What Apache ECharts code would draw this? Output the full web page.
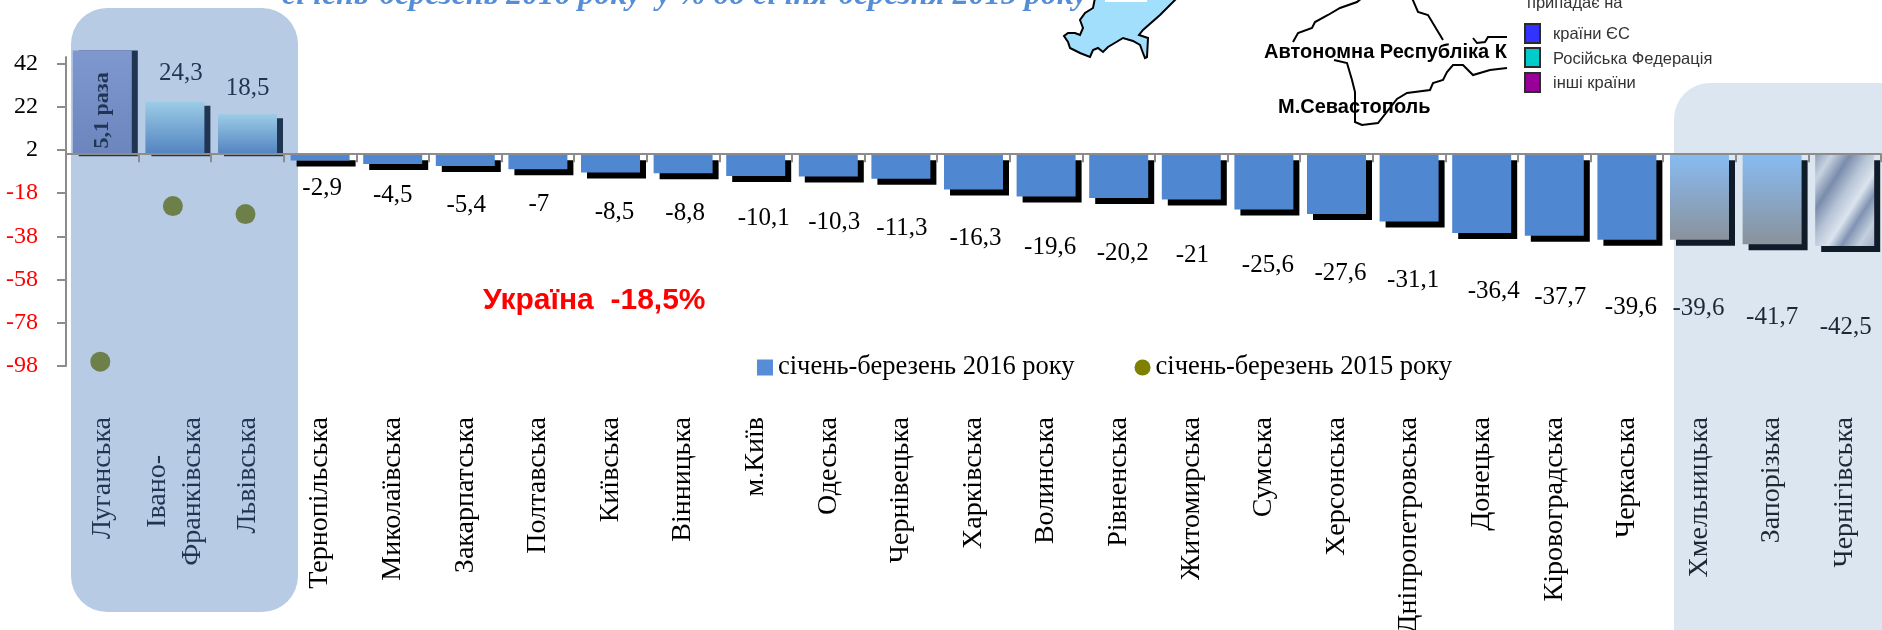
<!DOCTYPE html>
<html>
<head>
<meta charset="utf-8">
<style>
	html, body { margin: 0; padding: 0; background: #fff; overflow: hidden; }
	#main { width: 1882px; height: 630px; }
</style>
<script src="https://cdn.jsdelivr.net/npm/echarts@6/dist/echarts.min.js"></script>
</head>
<body>
<div id="main"></div>
<script>
var regions = ['Луганська', 'Івано-Франківська', 'Львівська', 'Тернопільська', 'Миколаївська', 'Закарпатська', 'Полтавська', 'Київська', 'Вінницька', 'м.Київ', 'Одеська', 'Чернівецька', 'Харківська', 'Волинська', 'Рівненська', 'Житомирська', 'Сумська', 'Херсонська', 'Дніпропетровська', 'Донецька', 'Кіровоградська', 'Черкаська', 'Хмельницька', 'Запорізька', 'Чернігівська'];
// перший стовпчик обрізаний на малюнку, підпис "5,1 раза"
var values2016 = [48, 24.3, 18.5, -2.9, -4.5, -5.4, -7, -8.5, -8.8, -10.1, -10.3, -11.3, -16.3, -19.6, -20.2, -21, -25.6, -27.6, -31.1, -36.4, -37.7, -39.6, -39.6, -41.7, -42.5];
var values2015 = [-96, -24, -27.7];
var yTicks = [42, 22, 2, -18, -38, -58, -78, -98];
var seriesNames = ['січень-березень 2016 року', 'січень-березень 2015 року'];

// зсув підписів відносно стовпчиків, px
var labelShiftX = [-8, 6, 0, 2, 0, 1, 1, 4, 2, 8, 6, 1, 2, 4, 4, 1, 4, 4, 4, 12, 6, 4, -1, 0, 1];
var labelShiftY = [0, -11, -8, 10, 14, 22, 18, 22, 23, 25, 28, 32, 31, 33, 38, 38, 38, 42, 41, 41, 44, 50, 51, 56, 64];

var NAVY = '#1f3552';
var BAR_W = 59;

function groupOf(i) {
	if (i < 3) return 0;
	if (i > 21) return 2;
	return 1;
}
var textColors = [NAVY, '#000', '#1c2836'];
var shadowColors = [NAVY, '#000', '#0f1b28'];

function vgrad(top, bottom) {
	return {
		type: 'linear', x: 0, y: 0, x2: 0, y2: 1,
		colorStops: [{ offset: 0, color: top }, { offset: 1, color: bottom }]
	};
}

function barFill(i) {
	if (i === 0) return vgrad('#8098d0', '#6c85bd');
	if (i < 3) return vgrad('#9bcce6', '#5283c0');
	if (i === 24) {
		return {
			type: 'linear', x: 0, y: 0, x2: 1.7, y2: 0.7,
			colorStops: [
				{ offset: 0, color: '#8f9fb8' },
				{ offset: 0.12, color: '#c8d3e0' },
				{ offset: 0.25, color: '#7a8cac' },
				{ offset: 0.38, color: '#b7c4d6' },
				{ offset: 0.5, color: '#dbe4ee' },
				{ offset: 0.6, color: '#8093b3' },
				{ offset: 0.72, color: '#c4cfdd' },
				{ offset: 0.85, color: '#9cadc5' },
				{ offset: 1, color: '#7486a8' }
			]
		};
	}
	if (i > 21) return vgrad('#88bbf2', '#8a929c');
	return '#4f88d0';
}

var barData = values2016.map(function(v, i) {
	var item = { value: v, itemStyle: { color: barFill(i) } };
	if (i === 0) {
		item.label = { show: true, position: 'inside', rotate: 90, fontWeight: 'bold', fontSize: 22, color: NAVY, formatter: '5,1 раза' };
	} else {
		item.label = { color: textColors[groupOf(i)] };
	}
	return item;
});

// тінь стовпчика
function renderShadow(params, api) {
	var i = api.value(0);
	var v = api.value(1);
	var zero = api.coord([i, 0]);
	var end = api.coord([i, v]);
	var x = zero[0] - BAR_W / 2 + 6;
	var y, h;
	if (v >= 0) {
		y = end[1] + (i === 0 ? 0 : 4);
		h = zero[1] + 2 - y;
	} else {
		y = zero[1] + 6;
		h = end[1] - zero[1];
	}
	return {
		type: 'rect',
		shape: { x: x, y: y, width: BAR_W, height: h },
		style: { fill: shadowColors[groupOf(i)] }
	};
}

function crimeaLine(points, width) {
	return {
		type: 'polyline', z: 1,
		shape: { points: points },
		style: { fill: null, stroke: '#000', lineWidth: width || 2 }
	};
}

function sideText(text, x, y, size, weight, color) {
	return {
		type: 'text', x: x, y: y, z: 6,
		style: {
			text: text, fill: color,
			font: (weight || 'normal') + ' ' + size + 'px "Liberation Sans", Arial, sans-serif',
			textVerticalAlign: 'middle'
		}
	};
}

function swatch(y, color) {
	return {
		type: 'rect', z: 6,
		shape: { x: 1525, y: y, width: 15, height: 19 },
		style: { fill: color, stroke: '#2b2b2b', lineWidth: 2 }
	};
}

var graphicItems = [
	// підкладки областей
	{ type: 'rect', z: -1, shape: { x: 71, y: 8, width: 227, height: 604, r: 36 }, style: { fill: '#b7cbe4' } },
	{ type: 'rect', z: -1, shape: { x: 1674, y: 83, width: 250, height: 580, r: 36 }, style: { fill: '#dce6f1' } },
	// фрагмент карти
	{
		type: 'polygon', z: 1,
		shape: { points: [[1095, -2], [1093, 8], [1085, 13], [1080, 20], [1083, 28], [1080, 35], [1075, 33], [1068, 33], [1064, 36], [1068, 42], [1070, 48], [1080, 53], [1090, 57], [1093, 50], [1098, 48], [1103, 52], [1108, 47], [1118, 41], [1123, 38], [1133, 41], [1140, 45], [1143, 53], [1145, 58], [1147, 57], [1148, 38], [1139, 35], [1143, 30], [1160, 15], [1177, -2]] },
		style: { fill: '#a2dffd', stroke: '#000', lineWidth: 2 }
	},
	{ type: 'rect', z: 2, shape: { x: 1105, y: 0, width: 42, height: 2 }, style: { fill: '#fff' } },
	crimeaLine([[1293, 42], [1298, 33], [1312, 28], [1315, 22], [1328, 15], [1340, 8], [1357, 2], [1362, -2]]),
	crimeaLine([[1412, -2], [1418, 12], [1428, 15], [1443, 40]]),
	crimeaLine([[1473, 38], [1477, 43], [1485, 42], [1488, 37], [1507, 37]]),
	crimeaLine([[1507, 68], [1490, 70], [1473, 75], [1463, 65], [1453, 65], [1447, 72], [1443, 80], [1433, 83], [1430, 90], [1407, 93], [1397, 99], [1378, 123], [1362, 125], [1355, 122], [1355, 92], [1352, 80], [1347, 63], [1334, 60]]),
	sideText('Автономна Республіка К', 1264, 52, 20, 'bold', '#000'),
	sideText('М.Севастополь', 1278, 107, 20, 'bold', '#000'),
	// легенда карти
	sideText('припадає на', 1527, 3, 16.5, 'normal', '#333'),
	swatch(24, '#3333ff'),
	swatch(48, '#00cccc'),
	swatch(73, '#990099'),
	sideText('країни ЄС', 1553, 34, 16.5, 'normal', '#333'),
	sideText('Російська Федерація', 1553, 59, 16.5, 'normal', '#333'),
	sideText('інші країни', 1553, 83, 16.5, 'normal', '#333'),
	// заголовок обрізаний зверху
	{
		type: 'text', x: 282, y: -20, z: 6,
		style: {
			text: 'січень-березень 2016 року  у % до січня-березня 2015 року',
			fill: '#558ed5',
			font: 'italic bold 32px "Liberation Serif", serif'
		}
	},
	{
		type: 'text', x: 483, y: 301, z: 6,
		style: {
			text: 'Україна  -18,5%',
			fill: '#ff0000',
			font: 'bold 30px "Liberation Sans", Arial, sans-serif',
			textVerticalAlign: 'middle'
		}
	}
];

var myChart = echarts.init(document.getElementById('main'));
var option = {
	backgroundColor: '#fff',
	animation: false,
	textStyle: { fontFamily: '"Liberation Serif", "Times New Roman", serif' },
	grid: { left: 66, top: 57, bottom: 264, width: 1815, outerBoundsMode: 'none' }, // підписи виходять за межі, сітку не стискати
	graphic: graphicItems,
	legend: {
		left: 752, top: 349,
		itemWidth: 16, itemHeight: 16, itemGap: 60,
		textStyle: { fontSize: 26.5, color: '#000' },
		data: [
			{ name: seriesNames[0], icon: 'rect', itemStyle: { color: '#558ed5' } },
			{ name: seriesNames[1], icon: 'circle', itemStyle: { color: '#808000' } }
		]
	},
	xAxis: [
		{ // лінія нуля
			type: 'category',
			data: regions,
			z: 5,
			axisLine: { onZero: true, lineStyle: { color: '#8c8c8c', width: 2 } },
			axisTick: { show: true, alignWithLabel: false, length: 8, interval: 0, lineStyle: { color: '#8c8c8c', width: 2 } },
			axisLabel: { show: false },
			splitLine: { show: false }
		},
		{ // підписи областей
			type: 'category',
			data: regions,
			position: 'bottom',
			axisLine: { show: false, onZero: false },
			axisTick: { show: false },
			axisLabel: {
				interval: 0,
				rotate: 90,
				margin: 51,
				fontSize: 28,
				color: function(value, index) {
					return textColors[groupOf(index)];
				},
				formatter: function(value) {
					if (value === 'Івано-Франківська') return '{c|Івано-}\n{c|Франківська}';
					return value;
				},
				rich: { c: { align: 'center', fontSize: 28, lineHeight: 35, color: NAVY } }
			},
			splitLine: { show: false }
		}
	],
	yAxis: {
		type: 'value',
		min: -98,
		max: 45,
		z: 5,
		splitLine: { show: false },
		axisLine: { show: true, onZero: false, lineStyle: { color: '#8c8c8c', width: 2 } },
		axisTick: { show: true, length: 9, customValues: yTicks, lineStyle: { color: '#8c8c8c', width: 2 } },
		axisLabel: {
			customValues: yTicks,
			margin: 28,
			fontSize: 24,
			padding: [4, 0, 0, 0],
			color: function(value) {
				return value < 0 ? '#ff0000' : '#000';
			}
		}
	},
	series: [
		{
			type: 'custom',
			xAxisIndex: 0,
			z: 1,
			silent: true,
			renderItem: renderShadow,
			data: values2016.map(function(v, i) { return [i, v]; })
		},
		{
			name: seriesNames[0],
			type: 'bar',
			xAxisIndex: 0,
			barWidth: BAR_W,
			z: 2,
			clip: false,
			itemStyle: { color: '#558ed5' },
			label: {
				show: true,
				position: 'outside',
				fontSize: 25,
				formatter: function(p) {
					return String(p.value).replace('.', ',');
				}
			},
			labelLayout: function(params) {
				var i = params.dataIndex;
				return { dx: labelShiftX[i], dy: labelShiftY[i] };
			},
			data: barData
		},
		{
			name: seriesNames[1],
			type: 'scatter',
			xAxisIndex: 0,
			symbolSize: 20,
			symbolOffset: [-2, 0],
			z: 3,
			itemStyle: { color: '#6e804a', opacity: 1 },
			data: values2015
		}
	]
};
myChart.setOption(option);
</script>
</body>
</html>
